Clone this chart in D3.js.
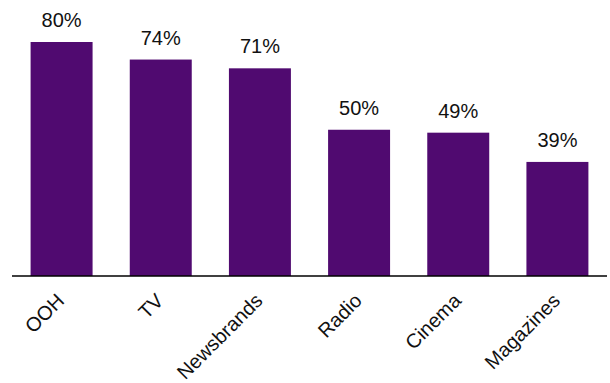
<!DOCTYPE html>
<html><head><meta charset="utf-8">
<script src="https://cdn.jsdelivr.net/npm/d3@7"></script>
<style>body{margin:0;background:#fff;}svg{display:block;}</style>
</head><body>
<script>
const categories = ["OOH","TV","Newsbrands","Radio","Cinema","Magazines"];
const values = [80,74,71,50,49,39];
const valueLabels = ["80%","74%","71%","50%","49%","39%"];

const W = 610, H = 383;
const svg = d3.select("body").append("svg").attr("width",W).attr("height",H);
const x = d3.scaleBand().domain(categories).range([12,607]).paddingInner(0.375).paddingOuter(0.1875);
const y = d3.scaleLinear().domain([0,80]).range([276,42]);

svg.selectAll("rect.bar").data(values).enter().append("rect")
  .attr("x",(d,i)=>x(categories[i])).attr("y",d=>y(d))
  .attr("width",x.bandwidth()).attr("height",d=>y(0)-y(d))
  .attr("fill","#500a70");

svg.selectAll("text.val").data(values).enter().append("text")
  .attr("x",(d,i)=>x(categories[i])+x.bandwidth()/2).attr("y",d=>y(d)-15)
  .attr("text-anchor","middle").attr("font-family","'Liberation Sans', Arial, sans-serif")
  .attr("font-size",20).attr("fill","#111").text((d,i)=>valueLabels[i]);

const axis = d3.axisBottom(x).tickSize(0).tickPadding(0);
const g = svg.append("g").attr("transform","translate(0,276)").call(axis);
g.select(".domain").attr("stroke","#000").attr("stroke-width",1.5).attr("d","M12,0H607");
g.selectAll(".tick text")
  .attr("font-family","'Liberation Sans', Arial, sans-serif").attr("font-size",20).attr("fill","#111")
  .attr("text-anchor","end").attr("dy",0).attr("y",0)
  .attr("transform","translate(4,26) rotate(-45)");
</script>
</body></html>
